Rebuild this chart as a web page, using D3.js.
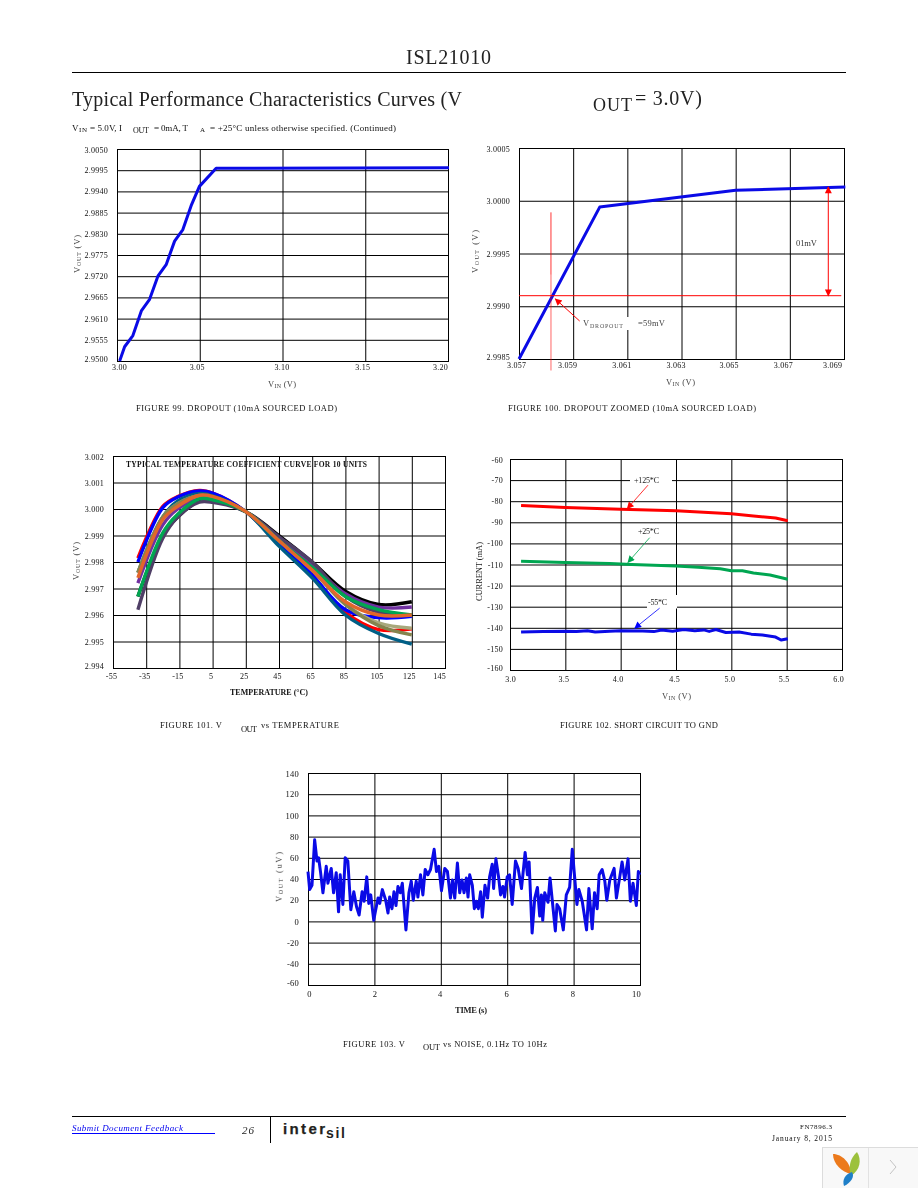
<!DOCTYPE html>
<html><head><meta charset="utf-8">
<script src="https://cdn.jsdelivr.net/npm/d3@7/dist/d3.min.js"></script>
<style>
html,body{margin:0;padding:0;background:#fff}
svg{display:block}
text{font-family:"Liberation Serif",serif}
</style></head><body>
<svg id="page" width="918" height="1188"></svg>
<script>
// ---------- Figure 99
const fig99Vin  = [3.0016,3.0046,3.0096,3.0147,3.0197,3.0247,3.0297,3.0348,3.0398,3.0448,3.0498,3.0599,3.2006];
const fig99Vout = [2.9500,2.9537,2.9566,2.9630,2.9660,2.9720,2.9750,2.9811,2.9841,2.9903,2.9953,3.0000,3.00016];
const fig99XTicks = [3.00,3.05,3.10,3.15,3.20];
const fig99YTicks = [3.0050,2.9995,2.9940,2.9885,2.9830,2.9775,2.9720,2.9665,2.9610,2.9555,2.9500];
// ---------- Figure 100
const fig100Vin  = [3.057,3.05998,3.0650,3.06905];
const fig100Vout = [2.9985,2.99994,3.0001,3.00013];
const fig100XTicks = [3.057,3.059,3.061,3.063,3.065,3.067,3.069];
const fig100YTicks = [3.0005,3.0000,2.9995,2.9990,2.9985];
// ---------- Figure 101
const fig101Temps = [-40,-25,-16,-3,5,25,45,65,85,105,125];
const unitRed      = [2.99815,3.0001,3.00047,3.0007,3.0006,2.9999,2.9987,2.9975,2.9961,2.99545,2.99548];
const unitBlack    = [2.9967,2.9990,2.9997,3.0003,3.0003,2.9999,2.9990,2.9980,2.9969,2.9964,2.9965];
const unitBlue     = [2.9980,3.00005,3.00045,3.00068,3.0006,2.9999,2.9987,2.9975,2.9962,2.9959,2.99595];
const unitPurple   = [2.9972,2.9994,3.0000,3.0004,3.0004,2.9999,2.9989,2.9979,2.9968,2.9963,2.9963];
const unitTeal     = [2.9976,2.9997,3.0003,3.00058,3.0005,2.9999,2.9986,2.9974,2.9960,2.9953,2.9949];
const unitSlate    = [2.9962,2.9989,2.9997,3.00026,3.00025,2.9999,2.99895,2.9980,2.9967,2.9961,2.9960];
const unitGreen    = [2.9967,2.9991,2.9998,3.00038,3.00035,2.9999,2.9988,2.9978,2.9967,2.9962,2.9960];
const unitOrange   = [2.9974,2.9996,3.0001,3.00052,3.00048,2.9999,2.9988,2.9977,2.9965,2.9960,2.9960];
const unitTan      = [2.9976,2.9997,3.0002,3.0005,3.00045,2.9999,2.9988,2.9977,2.9964,2.9957,2.9955];
const unitOlive    = [2.9976,2.9997,3.0002,3.0005,3.00045,2.9999,2.9988,2.9977,2.9964,2.9956,2.99525];
const fig101Colors = ["#ff0000","#000000","#0000ff","#7030a0","#005f86","#4f3f66","#a8a87c","#84844e","#00a651","#e2662a"];
const fig101XTicks = [-55,-35,-15,5,25,45,65,85,105,125,145];
const fig101YTicks = [3.002,3.001,3.000,2.999,2.998,2.997,2.996,2.995,2.994];
// ---------- Figure 102
const hotVin  = [3.1,3.5,4.0,4.5,5.0,5.2,5.4,5.51];
const hotI    = [-82,-83,-83.8,-84.5,-86,-87,-88,-89.3];
const roomVin = [3.1,3.5,3.9,4.1,4.5,4.7,4.9,5.0,5.1,5.2,5.35,5.51];
const roomI   = [-108.5,-109,-109.5,-110,-110.7,-111.3,-112,-113,-113,-114,-115,-117];
const coldVin = [3.1,3.3,3.5,3.6,3.7,3.77,3.9,4.0,4.2,4.3,4.37,4.47,4.57,4.67,4.75,4.8,4.86,4.95,5.07,5.18,5.28,5.4,5.45,5.51];
const coldI   = [-142,-141.7,-141.6,-141.8,-141.4,-142,-141.6,-141.4,-141.5,-141.8,-141,-141.6,-140.8,-141.4,-141,-141.7,-140.8,-142.2,-142,-143,-143.4,-144.4,-145.8,-145.2];
const fig102XTicks = [3.0,3.5,4.0,4.5,5.0,5.5,6.0];
const fig102YTicks = [-60,-70,-80,-90,-100,-110,-120,-130,-140,-150,-160];
// ---------- Figure 103
const noiseT = [0,.05,.12,.2,.27,.32,.38,.45,.55,.6,.7,.77,.85,.92,.97,1.05,1.12,1.2,1.29,1.38,1.46,1.54,1.63,1.69,1.77,1.83,1.89,1.98,2.04,2.11,2.16,2.24,2.34,2.41,2.46,2.53,2.59,2.65,2.71,2.78,2.84,2.95,3.04,3.11,3.17,3.26,3.31,3.39,3.46,3.53,3.61,3.69,3.80,3.87,3.94,4.02,4.12,4.20,4.29,4.35,4.42,4.50,4.57,4.64,4.70,4.77,4.82,4.87,4.95,5.01,5.07,5.13,5.2,5.25,5.33,5.41,5.47,5.55,5.59,5.66,5.74,5.80,5.87,5.92,6.0,6.07,6.15,6.25,6.33,6.43,6.54,6.61,6.66,6.75,6.83,6.91,6.98,7.03,7.07,7.13,7.23,7.29,7.36,7.45,7.5,7.58,7.69,7.78,7.88,7.96,8.02,8.1,8.16,8.26,8.39,8.46,8.56,8.63,8.71,8.77,8.86,8.94,9.0,9.09,9.22,9.29,9.39,9.46,9.54,9.64,9.71,9.79,9.89,9.95,9.99];
const noiseUV = [47,30,34,77,57,60,46,27,52,36,50,27,46,9,44,16,60,57,11,28,14,6,28,19,42,17,25,1,11,22,17,30,20,8,23,12,28,15,33,27,36,-8,27,38,20,38,23,44,25,49,44,49,68,47,52,29,50,47,22,39,22,55,27,39,27,41,23,44,34,12,19,12,28,4,34,22,42,54,31,59,42,25,33,23,42,44,16,57,50,31,65,44,56,-11,22,32,5,25,1,27,18,41,19,-9,16,12,-8,25,32,68,46,16,30,19,-8,31,-7,27,12,44,49,38,20,39,50,22,42,56,39,59,19,36,15,47,44];
const fig103XTicks = [0,2,4,6,8,10];
const fig103YTicks = [140,120,100,80,60,40,20,0,-20,-40,-60];
// ---------- Annotation values
const fig100VLineUpper = [2.99989,2.9993];
const fig100VLineLower = [2.9993,2.99839];
const fig100VinAtDropout = 3.05818;
const fig100HLineX = [3.057,3.0689];
const fig100HLineV = 2.9991;
const fig102Arrows = [[4.247,-72.4,4.06,-83.5],[4.262,-97.3,4.066,-109],[4.352,-130.7,4.127,-140.2]];
const fig102ArrowColors = ["#ff0000","#00a651","#0000ff"];

const svg = d3.select("#page");
const defs = svg.append("defs");
defs.append("filter").attr("id","soft").attr("x","-5%").attr("y","-20%").attr("width","110%").attr("height","140%")
  .append("feGaussianBlur").attr("stdDeviation",0.35);
function marker(id,color,w,h){
  defs.append("marker").attr("id",id).attr("viewBox","0 0 10 10").attr("refX",9).attr("refY",5)
    .attr("markerUnits","userSpaceOnUse").attr("markerWidth",w).attr("markerHeight",h).attr("orient","auto-start-reverse")
    .append("path").attr("d","M0,0L10,5L0,10Z").attr("fill",color);
}
marker("arR","#ff0000",10,7); marker("arG","#00a651",10,7); marker("arB","#0000ff",10,7);

const T = svg.append("g").attr("filter","url(#soft)");
function label(x0,x1,yc,str,o={}){
  const s=o.size||8.5;
  return T.append("text").attr("x",x0).attr("y",yc+s*0.33).attr("font-size",s)
    .attr("textLength",x1-x0).attr("lengthAdjust","spacing")
    .attr("fill",o.fill||"#111").attr("font-weight",o.weight||null).attr("font-style",o.style||null).html(str);
}
function vlabel(xc,y0,y1,str,o={}){
  const s=o.size||8.5;
  return T.append("text").attr("transform",`translate(${xc+s*0.33},${y1}) rotate(-90)`).attr("font-size",s)
    .attr("textLength",y1-y0).attr("lengthAdjust","spacing")
    .attr("fill",o.fill||"#333").attr("font-weight",o.weight||null).html(str);
}
const sub=(a,b,c)=>`${a}<tspan font-size="6" dy="1">${b}</tspan><tspan dy="-1">${c}</tspan>`;

function chart(c){
  const x=d3.scaleLinear().domain(c.xDom).range([c.l,c.r]);
  const y=d3.scaleLinear().domain(c.yDom).range([c.b,c.t]);
  const g=svg.append("g");
  const ax=g.append("g").attr("transform",`translate(0,${c.b})`)
    .call(d3.axisBottom(x).tickValues(c.xTicks).tickFormat(c.xFmt).tickSizeInner(-(c.b-c.t)).tickSizeOuter(0).tickPadding(c.xPad));
  const ay=g.append("g").attr("transform",`translate(${c.l},0)`)
    .call(d3.axisLeft(y).tickValues(c.yTicks).tickFormat(c.yFmt).tickSizeInner(-(c.r-c.l)).tickSizeOuter(0).tickPadding(c.yPad));
  g.append("rect").attr("x",c.l+.5).attr("y",c.t+.5).attr("width",c.r-c.l).attr("height",c.b-c.t).attr("fill","none").attr("stroke","#000");
  [ax,ay].forEach(a=>{
    a.selectAll("line").attr("stroke","#000").attr("stroke-width",1);
    a.select(".domain").attr("stroke","#000");
    a.selectAll("text").attr("font-family","Liberation Serif").attr("font-size",c.font||8).attr("letter-spacing",.25).attr("fill","#111").attr("filter","url(#soft)");
  });
  ax.selectAll("text").attr("dx",(d,i)=>c.xDx[i]);
  ay.selectAll("text").attr("dy",d=>{
    const v=+d; if(v===c.yDom[0])return "0.05em"; if(v===c.yDom[1])return "0.42em"; return ".32em";
  });
  return {x,y,g};
}
function line(p,xs,ys,color,w,curve){
  const gen=d3.line().x(d=>p.x(d[0])).y(d=>p.y(d[1]));
  if(curve)gen.curve(curve);
  p.g.append("path").datum(xs.map((v,i)=>[v,ys[i]])).attr("d",gen)
    .attr("fill","none").attr("stroke",color).attr("stroke-width",w).attr("stroke-linejoin","round");
}
function seg(p,x1,y1,x2,y2,color,w,m0,m1,op){
  const s=p.g.append("line").attr("x1",p.x(x1)).attr("y1",p.y(y1)).attr("x2",p.x(x2)).attr("y2",p.y(y2))
    .attr("stroke",color).attr("stroke-width",w);
  if(m0)s.attr("marker-start",`url(#${m0})`);
  if(m1)s.attr("marker-end",`url(#${m1})`);
  if(op)s.attr("opacity",op);
}

// ---- header
svg.append("line").attr("x1",72).attr("x2",846).attr("y1",72.5).attr("y2",72.5).attr("stroke","#000");
label(406,491,57,"ISL21010",{size:20,fill:"#222"});
label(72,462,99,"Typical Performance Characteristics Curves (V",{size:20,fill:"#222"});
label(593,632,105,"OUT",{size:18,fill:"#222"});
label(635,702,98,"= 3.0V)",{size:20,fill:"#222"});
label(72,79,128,"V",{size:9}); label(79,87,130,"IN",{size:7});
label(90,122,128,"= 5.0V, I",{size:9});
label(133,149,130,"OUT",{size:8});
label(154,188,128,"= 0mA, T",{size:9});
label(200,204,130,"A",{size:7});
label(210,396,128,"= +25°C unless otherwise specified. (Continued)",{size:9});

const f4=d3.format(".4f"), f2=d3.format(".2f"), f3=d3.format(".3f"), f0=d=>String(d), f1=d3.format(".1f");

// ---- Figure 99
const p99=chart({xDom:[3.0,3.2],yDom:[2.95,3.005],l:117,r:448,t:149,b:361,xTicks:fig99XTicks,yTicks:fig99YTicks,xFmt:f2,yFmt:f4,xPad:3,yPad:9,xDx:[2,-3,-1,-3,-8]});
line(p99,fig99Vin,fig99Vout,"#0a0ae6",3);
vlabel(77,235,273,sub("V","OUT"," (V)"),{fill:"#444"});
label(268,296,384,sub("V","IN"," (V)"),{fill:"#444"});
label(136,337,408,"FIGURE 99. DROPOUT (10mA SOURCED LOAD)",{size:8.5});

// ---- Figure 100
const p100=chart({xDom:[3.057,3.069],yDom:[2.9985,3.0005],l:519,r:844,t:148,b:359,xTicks:fig100XTicks,yTicks:fig100YTicks,xFmt:f3,yFmt:f4,xPad:3,yPad:9,xDx:[-3,-6,-6,-6,-7,-7,-12]});
p100.g.append("rect").attr("x",623).attr("y",317).attr("width",14).attr("height",13).attr("fill","#fff");
line(p100,fig100Vin,fig100Vout,"#0a0ae6",3);
seg(p100,fig100VinAtDropout,fig100VLineUpper[0],fig100VinAtDropout,fig100VLineUpper[1],"#ff0000",.8);
seg(p100,fig100VinAtDropout,fig100VLineLower[0],fig100VinAtDropout,fig100VLineLower[1],"#ff0000",1.5,null,null,.4);
seg(p100,fig100HLineX[0],fig100HLineV,fig100HLineX[1],fig100HLineV,"#ff0000",1);
seg(p100,3.06842,3.00013,3.06842,fig100HLineV,"#ff0000",1,"arR","arR");
seg(p100,3.05924,2.99886,3.05834,2.99907,"#ff0000",1,null,"arR");
vlabel(475,230,273,sub("V","OUT"," (V)"),{fill:"#444"});
label(666,695,382,sub("V","IN"," (V)"),{fill:"#444"});
label(796,817,243,"01mV",{size:8.5,fill:"#333"});
label(583,588,323,"V",{size:8.5,fill:"#444"});
label(590,623,326,"DROPOUT",{size:6,fill:"#555"});
label(638,665,323,"=59mV",{size:8.5,fill:"#444"});
label(508,756,408,"FIGURE 100. DROPOUT ZOOMED (10mA SOURCED LOAD)",{size:8.5});

// ---- Figure 101
const p101=chart({xDom:[-55,145],yDom:[2.994,3.002],l:113,r:445,t:456,b:668,xTicks:fig101XTicks,yTicks:fig101YTicks,xFmt:f0,yFmt:f3,xPad:5,yPad:9,xDx:[-2,-2,-2,-2,-2,-2,-2,-2,-2,-3,-6]});
[unitRed,unitBlack,unitBlue,unitPurple,unitTeal,unitSlate,unitTan,unitOlive,unitGreen,unitOrange]
  .forEach((u,i)=>line(p101,fig101Temps,u,fig101Colors[i],3.4,d3.curveCatmullRom.alpha(0.5)));
label(126,367,465,"TYPICAL TEMPERATURE COEFFICIENT CURVE FOR 10 UNITS",{size:7.5,weight:"bold"});
vlabel(76,542,580,sub("V","OUT"," (V)"),{fill:"#444"});
label(230,308,692,"TEMPERATURE (°C)",{size:8,weight:"bold"});
label(160,222,725,"FIGURE 101. V",{size:8.5});
label(241,257,729,"OUT",{size:8.5});
label(261,339,725,"vs TEMPERATURE",{size:8.5});

// ---- Figure 102
const p102=chart({xDom:[3,6],yDom:[-160,-60],l:510,r:842,t:459,b:670,xTicks:fig102XTicks,yTicks:fig102YTicks,xFmt:f1,yFmt:f0,xPad:6,yPad:7,xDx:[0,-2,-3,-2,-2,-3,-4]});
p102.g.append("rect").attr("x",630).attr("y",477).attr("width",42).attr("height",7).attr("fill","#fff");
p102.g.append("rect").attr("x",647).attr("y",595).attr("width",30).attr("height",13.5).attr("fill","#fff");
line(p102,hotVin,hotI,"#ff0000",3);
line(p102,roomVin,roomI,"#00a651",3);
line(p102,coldVin,coldI,"#0a0ae6",3);
fig102Arrows.forEach((a,i)=>seg(p102,a[0],a[1],a[2],a[3],fig102ArrowColors[i],.8,null,["arR","arG","arB"][i]));
label(634,659,480,"+125*C",{size:8,fill:"#222"});
label(638,659,531,"+25*C",{size:8,fill:"#222"});
label(648,667,602,"-55*C",{size:8,fill:"#222"});
vlabel(479,542,601,"CURRENT (mA)",{fill:"#222"});
label(662,691,696,sub("V","IN"," (V)"),{fill:"#444"});
label(560,718,725,"FIGURE 102. SHORT CIRCUIT TO GND",{size:8.5});

// ---- Figure 103
const p103=chart({xDom:[0,10],yDom:[-60,140],l:308,r:640,t:773,b:985,xTicks:fig103XTicks,yTicks:fig103YTicks,xFmt:f0,yFmt:f0,xPad:6,yPad:9,xDx:[1,0,-1,-1,-1,-4],font:8.5});
line(p103,noiseT,noiseUV,"#0a0ae6",3);
vlabel(279,852,902,sub("V","OUT"," (uV)"),{fill:"#444"});
label(455,487,1010,"TIME (s)",{size:8.5,weight:"bold",fill:"#222"});
label(343,405,1044,"FIGURE 103. V",{size:8.5});
label(423,440,1047,"OUT",{size:8.5});
label(443,547,1044,"vs NOISE, 0.1Hz TO 10Hz",{size:8.5});

// ---- footer
svg.append("line").attr("x1",72).attr("x2",846).attr("y1",1116.5).attr("y2",1116.5).attr("stroke","#000");
svg.append("line").attr("x1",270.5).attr("x2",270.5).attr("y1",1116).attr("y2",1143).attr("stroke","#000");
svg.append("line").attr("x1",72).attr("x2",215).attr("y1",1133.5).attr("y2",1133.5).attr("stroke","#0000ff");
label(72,183,1128,"Submit Document Feedback",{size:9,style:"italic",fill:"#0000ee"});
label(242,254,1130,"26",{size:11,style:"italic",fill:"#222"});
svg.append("text").attr("x",283).attr("y",1134).attr("font-size",15).attr("font-weight","bold").attr("fill","#231f20").attr("stroke","#231f20").attr("stroke-width",.25)
  .attr("textLength",42).attr("lengthAdjust","spacing").style("font-family","Liberation Sans").text("inter");
svg.append("text").attr("x",326).attr("y",1137.5).attr("font-size",14).attr("font-weight","bold").attr("fill","#231f20")
  .attr("textLength",19).attr("lengthAdjust","spacing").style("font-family","Liberation Sans").text("sil");
label(800,832,1127,"FN7896.3",{size:7});
label(772,832,1139,"January 8, 2015",{size:7.5});

// ---- corner widget
const w=svg.append("g");
w.append("rect").attr("x",822.5).attr("y",1147.5).attr("width",100).attr("height",45).attr("fill","#f8f8f8").attr("stroke","#dcdcdc");
w.append("line").attr("x1",868.5).attr("x2",868.5).attr("y1",1148).attr("y2",1188).attr("stroke","#e2e2e2");
w.append("path").attr("d","M833,1154C842,1154 851,1163 851,1174C842,1172 833,1164 833,1154Z").attr("fill","#ec7a1c");
w.append("path").attr("d","M857,1152C862,1160 860,1170 851,1176C848,1168 850,1158 857,1152Z").attr("fill","#9cc13c");
w.append("path").attr("d","M852,1172C855,1176 851,1183 844,1186C842,1180 845,1174 852,1172Z").attr("fill","#1f7fc8");
w.append("path").attr("d","M890,1160L896,1167L890,1174").attr("fill","none").attr("stroke","#c4c4c4").attr("stroke-width",1);

T.raise();
</script>
</body></html>
